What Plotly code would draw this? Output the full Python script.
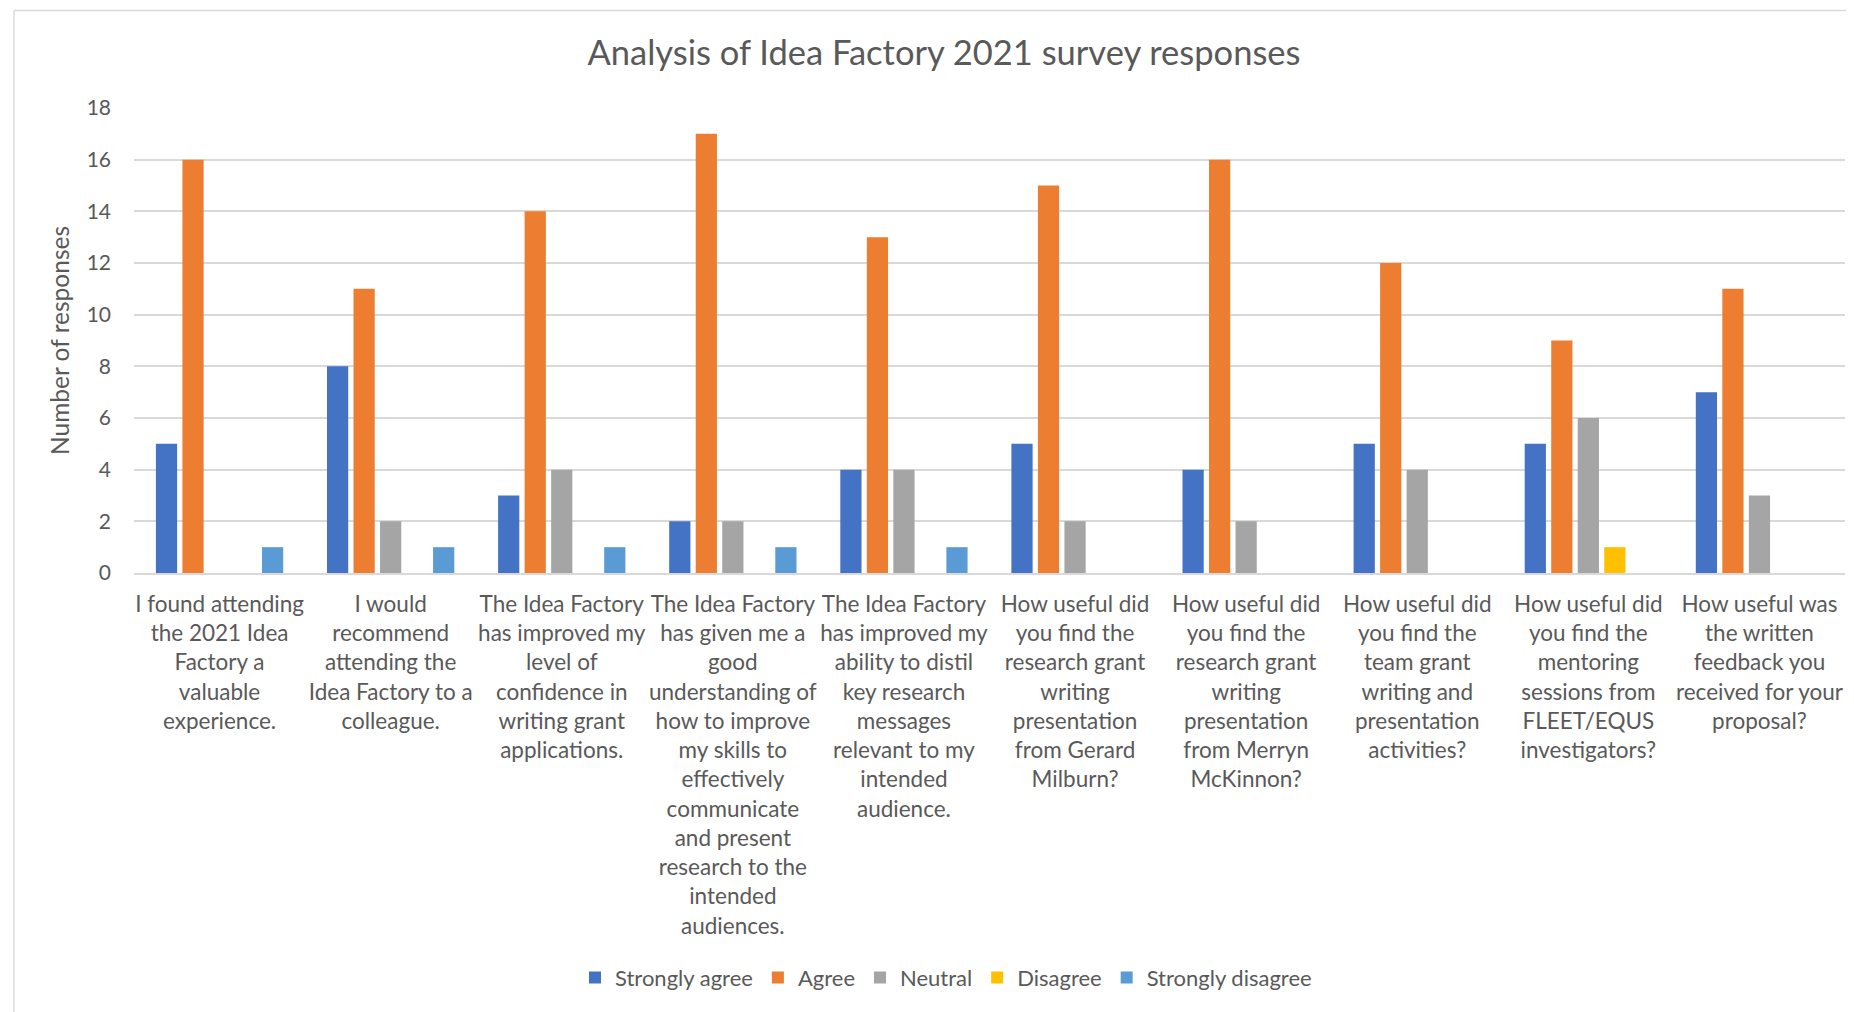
import plotly.graph_objects as go

categories = [
    "I found attending<br>the 2021 Idea<br>Factory a<br>valuable<br>experience.",
    "I would<br>recommend<br>attending the<br>Idea Factory to a<br>colleague.",
    "The Idea Factory<br>has improved my<br>level of<br>confidence in<br>writing grant<br>applications.",
    "The Idea Factory<br>has given me a<br>good<br>understanding of<br>how to improve<br>my skills to<br>effectively<br>communicate<br>and present<br>research to the<br>intended<br>audiences.",
    "The Idea Factory<br>has improved my<br>ability to distil<br>key research<br>messages<br>relevant to my<br>intended<br>audience.",
    "How useful did<br>you find the<br>research grant<br>writing<br>presentation<br>from Gerard<br>Milburn?",
    "How useful did<br>you find the<br>research grant<br>writing<br>presentation<br>from Merryn<br>McKinnon?",
    "How useful did<br>you find the<br>team grant<br>writing and<br>presentation<br>activities?",
    "How useful did<br>you find the<br>mentoring<br>sessions from<br>FLEET/EQUS<br>investigators?",
    "How useful was<br>the written<br>feedback you<br>received for your<br>proposal?",
]

strongly_agree = [5, 8, 3, 2, 4, 5, 4, 5, 5, 7]
agree = [16, 11, 14, 17, 13, 15, 16, 12, 9, 11]
neutral = [0, 2, 4, 2, 4, 2, 2, 4, 6, 3]
disagree = [0, 0, 0, 0, 0, 0, 0, 0, 1, 0]
strongly_disagree = [1, 1, 1, 1, 1, 0, 0, 0, 0, 0]

series_names = ["Strongly agree", "Agree", "Neutral", "Disagree", "Strongly disagree"]
series_values = [strongly_agree, agree, neutral, disagree, strongly_disagree]
series_colors = ["#4472C4", "#ED7D31", "#A5A5A5", "#FFC000", "#5B9BD5"]

y_ticks = [0, 2, 4, 6, 8, 10, 12, 14, 16, 18]

FONT = "Lato, 'Open Sans', sans-serif"
TXT = "#595959"

fig = go.Figure()
for name, vals, col in zip(series_names, series_values, series_colors):
    fig.add_trace(go.Bar(name=name, x=categories, y=vals, marker_color=col,
                         marker_line_width=0))

# page has an 8px body margin; figure coordinates = page coordinates - 8
OFF = 8
W, H = 1854 - OFF, 1012 - OFF
L = 134 - OFF
R = W - (1845 - OFF)
T = 107.6 - OFF
B = H - (573.5 - OFF)
pw = W - L - R
ph = H - T - B

fig.update_layout(
    width=W, height=H,
    margin=dict(l=L, r=R, t=T, b=B, autoexpand=False),
    paper_bgcolor="white", plot_bgcolor="white",
    font=dict(family=FONT, color=TXT, size=20),
    barmode="group", bargap=0.225, bargroupgap=0.2,
    title=dict(text="Analysis of Idea Factory 2021 survey responses",
               x=(944 - OFF) / W, xanchor="center", y=1 - (53 - OFF) / H, yanchor="middle",
               font=dict(size=34.5, color=TXT, family=FONT)),
    showlegend=True,
    legend=dict(orientation="h", x=(946 - L - OFF) / pw, xanchor="center",
                y=((573.5 - OFF) - (979 - OFF)) / ph, yanchor="middle",
                font=dict(size=22, color=TXT, family=FONT),
                itemwidth=30, traceorder="normal"),
)

fig.update_yaxes(
    range=[0, 18], tickvals=y_ticks, showgrid=True, gridcolor="#D9D9D9",
    gridwidth=1.5, zeroline=False, showline=False, ticks="",
    tickfont=dict(size=21, color=TXT), ticklabelstandoff=22,
    title=dict(text="Number of responses", font=dict(size=24.5, color=TXT), standoff=10),
)
fig.update_xaxes(
    showline=True, linecolor="#D9D9D9", linewidth=1.5, ticks="", tickangle=0,
    tickfont=dict(size=22.5, color=TXT), ticklabelstandoff=10,
)

# outer chart border (partially visible, as in the reference)
x_left = (14 - OFF - L) / pw
y_top = ((573.5 - OFF) - (10 - OFF)) / ph
fig.add_shape(type="line", xref="paper", yref="paper", x0=x_left, x1=1.2, y0=y_top, y1=y_top,
              line=dict(color="#D9D9D9", width=1.5))
fig.add_shape(type="line", xref="paper", yref="paper", x0=x_left, x1=x_left, y0=y_top, y1=-1.5,
              line=dict(color="#D9D9D9", width=1.5))

fig.write_html("out.html")
